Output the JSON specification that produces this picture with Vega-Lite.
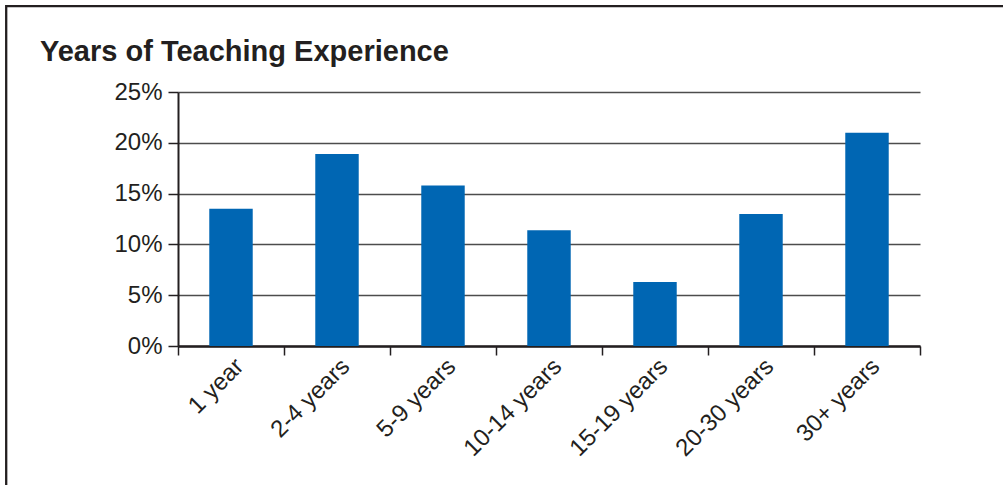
{
  "$schema": "https://vega.github.io/schema/vega-lite/v6.json",
  "width": 742,
  "height": 254,
  "autosize": {"type": "none"},
  "padding": {"left": 178, "top": 92, "right": 83, "bottom": 139},
  "background": "white",
  "title": {
    "text": "Years of Teaching Experience",
    "anchor": "start",
    "frame": "group",
    "dx": -138,
    "dy": 66,
    "font": "Liberation Sans",
    "fontSize": 29,
    "fontWeight": "bold",
    "color": "#231f20"
  },
  "data": {
    "values": [
      {"experience": "1 year", "percent": 13.5},
      {"experience": "2-4 years", "percent": 18.9},
      {"experience": "5-9 years", "percent": 15.8},
      {"experience": "10-14 years", "percent": 11.4},
      {"experience": "15-19 years", "percent": 6.3},
      {"experience": "20-30 years", "percent": 13.0},
      {"experience": "30+ years", "percent": 21.0}
    ]
  },
  "mark": {"type": "bar", "width": {"band": 0.41}},
  "encoding": {
    "x": {
      "field": "experience",
      "type": "nominal",
      "sort": null,
      "scale": {"paddingInner": 0, "paddingOuter": 0},
      "axis": {
        "title": null,
        "labelAngle": -45,
        "labelFont": "Liberation Sans",
        "labelFontSize": 24,
        "labelColor": "#231f20",
        "labelPadding": -1,
        "tickBand": "extent",
        "tickSize": 9,
        "tickWidth": 1.5,
        "tickColor": "#231f20",
        "domainColor": "#231f20",
        "domainWidth": 2.5,
        "grid": false
      }
    },
    "y": {
      "field": "percent",
      "type": "quantitative",
      "scale": {"domain": [0, 25], "nice": false},
      "axis": {
        "title": null,
        "values": [0, 5, 10, 15, 20, 25],
        "labelExpr": "datum.value + '%'",
        "labelFont": "Liberation Sans",
        "labelFontSize": 24,
        "labelColor": "#231f20",
        "labelPadding": 6,
        "tickSize": 10,
        "tickWidth": 1.5,
        "tickColor": "#231f20",
        "domainColor": "#231f20",
        "domainWidth": 2,
        "grid": true,
        "gridColor": "#4d4d4d",
        "gridWidth": 1.4
      }
    },
    "color": {
      "datum": "frame",
      "scale": {"range": ["#0066b3"]},
      "legend": {
        "orient": "none",
        "legendX": -171.8,
        "legendY": -85.8,
        "padding": 800,
        "strokeColor": "#231f20",
        "symbolOpacity": 0,
        "symbolSize": 0,
        "labelExpr": "''",
        "labelOpacity": 0,
        "title": null,
        "encode": {"legend": {"update": {"strokeWidth": {"value": 2.3}}}}
      }
    }
  },
  "config": {"view": {"stroke": null}}
}
